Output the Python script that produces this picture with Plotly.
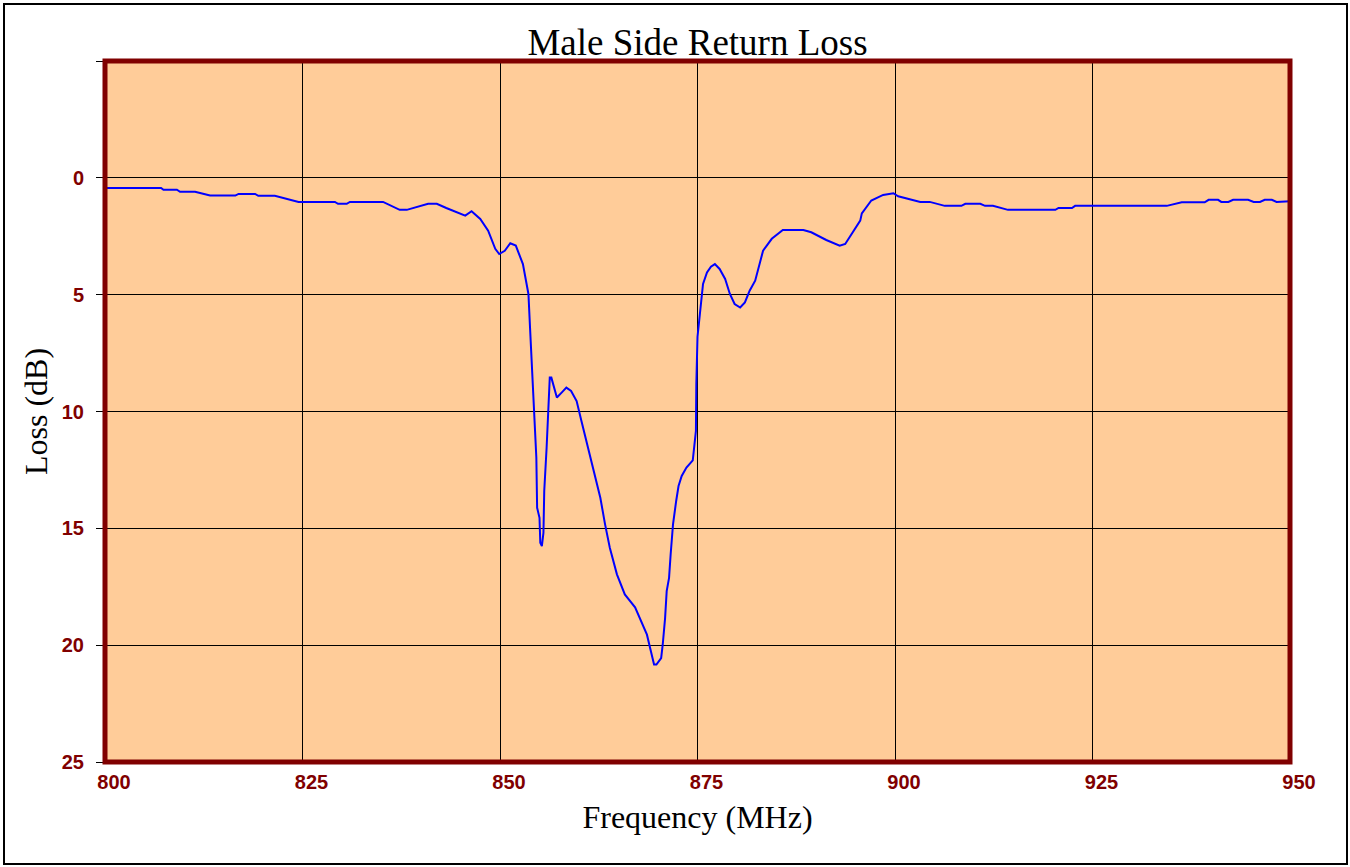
import plotly.graph_objects as go

title_text = "Male Side Return Loss"
x_title = "Frequency (MHz)"
y_title = "Loss (dB)"

freq_mhz = [800.0, 807.1, 807.4, 809.1, 809.5, 811.4, 813.3, 816.5, 816.9, 819.0,
            819.4, 821.5, 824.5, 829.1, 829.5, 830.6, 831.0, 835.2, 837.3, 838.2,
            840.9, 842.0, 843.2, 845.6, 846.4, 847.5, 848.5, 849.4, 849.9, 850.6,
            851.3, 852.0, 852.9, 853.6, 853.8, 854.2, 854.6, 854.7, 855.0, 855.1,
            855.3, 855.5, 855.6, 855.9, 856.1, 856.2, 856.3, 856.5, 856.7, 857.2,
            857.8, 858.4, 859.0, 859.7, 860.3, 861.4, 862.7, 863.3, 863.9, 864.8,
            865.8, 867.1, 867.7, 868.6, 869.1, 869.5, 869.8, 870.4, 870.6, 870.9,
            871.1, 871.4, 871.6, 871.9, 872.3, 872.4, 872.6, 873.0, 873.6, 874.4,
            874.5, 874.8, 874.85, 874.9, 875.0, 875.3, 875.7, 876.2, 876.7, 877.2,
            877.8, 878.5, 879.1, 879.7, 880.4, 881.0, 881.6, 882.3, 883.3, 884.4,
            885.8, 888.4, 889.4, 891.3, 893.0, 893.7, 894.9, 895.6, 895.8, 897.0,
            898.5, 899.8, 900.4, 903.2, 904.4, 906.3, 908.4, 908.9, 910.8, 911.4,
            912.4, 914.3, 920.3, 920.7, 922.4, 922.8, 934.4, 936.3, 939.2, 939.7,
            940.9, 941.3, 942.2, 942.8, 944.7, 945.4, 946.2, 946.8, 947.7, 948.3,
            950.0]
loss_db = [0.43, 0.43, 0.51, 0.51, 0.60, 0.60, 0.76, 0.76, 0.69, 0.69,
           0.77, 0.77, 1.03, 1.03, 1.11, 1.11, 1.03, 1.03, 1.37, 1.37,
           1.11, 1.11, 1.29, 1.62, 1.43, 1.76, 2.26, 3.04, 3.26, 3.12,
           2.80, 2.90, 3.69, 4.97, 6.40, 9.26, 11.97, 14.12, 14.55, 15.62,
           15.76, 15.19, 13.40, 11.55, 9.62, 9.30, 8.55, 8.55, 8.83, 9.40,
           9.19, 8.98, 9.12, 9.55, 10.40, 11.97, 13.69, 14.83, 15.83, 16.97,
           17.83, 18.38, 18.83, 19.55, 20.26, 20.83, 20.83, 20.55, 19.97, 18.83,
           17.69, 17.12, 16.12, 14.83, 13.83, 13.54, 13.19, 12.76, 12.40, 12.09,
           11.69, 10.83, 8.83, 7.50, 6.80, 5.83, 4.54, 4.05, 3.80, 3.69,
           3.90, 4.33, 4.97, 5.40, 5.55, 5.33, 4.83, 4.40, 3.12, 2.61,
           2.23, 2.23, 2.33, 2.66, 2.90, 2.83, 2.23, 1.83, 1.52, 0.97,
           0.73, 0.66, 0.79, 1.03, 1.03, 1.20, 1.20, 1.11, 1.11, 1.20,
           1.20, 1.37, 1.37, 1.29, 1.29, 1.20, 1.20, 1.05, 1.05, 0.94,
           0.94, 1.03, 1.03, 0.94, 0.94, 1.03, 1.03, 0.94, 0.94, 1.03,
           1.00]

x_ticks = [800, 825, 850, 875, 900, 925, 950]
y_ticks = [-5, 0, 5, 10, 15, 20, 25]
y_tick_labels = ["", "0", "5", "10", "15", "20", "25"]

fig = go.Figure()
fig.add_trace(go.Scatter(x=freq_mhz, y=loss_db, mode="lines",
                         line=dict(color="#0000FF", width=2), showlegend=False))

tick_font = dict(family="Liberation Sans, Arial", size=20, color="#800000", weight="bold")
serif = "Liberation Serif, Times New Roman"

fig.update_layout(
    width=1350, height=867,
    margin=dict(l=105, r=60, t=61, b=105),
    paper_bgcolor="white",
    plot_bgcolor="#FFCC99",
    title=dict(text=title_text, xref="paper", x=0.5, xanchor="center", y=0.952, yanchor="middle",
               font=dict(family=serif, size=37, color="black")),
    xaxis=dict(range=[800, 950], tickvals=x_ticks, ticks="", showgrid=True,
               gridcolor="black", gridwidth=1, zeroline=False, showline=False,
               tickfont=tick_font, ticklabelshift=9, ticklabelstandoff=6,
               title=dict(text=x_title, standoff=13,
                          font=dict(family=serif, size=32, color="black"))),
    yaxis=dict(range=[25, -5], tickvals=y_ticks, ticktext=y_tick_labels,
               ticks="outside", ticklen=8, tickcolor="black", tickwidth=1,
               showgrid=True, gridcolor="black", gridwidth=1, zeroline=False,
               showline=False, tickfont=tick_font, ticklabelstandoff=8,
               title=dict(text=y_title, standoff=4,
                          font=dict(family=serif, size=32, color="black"))),
)

# plot-area border
fig.add_shape(type="rect", xref="paper", yref="paper", x0=0, x1=1, y0=0, y1=1,
              line=dict(color="#800000", width=5), layer="above")
# outer chart frame
fig.add_shape(type="rect", xref="paper", yref="paper",
              x0=(4 - 105) / 1185, x1=(1347 - 105) / 1185,
              y0=(762 - 864) / 701, y1=(762 - 4) / 701,
              line=dict(color="black", width=2), layer="above")

fig.write_html("out.html", config={"displayModeBar": False},
               post_script="document.body.style.margin='0px';document.body.style.overflow='hidden';")
